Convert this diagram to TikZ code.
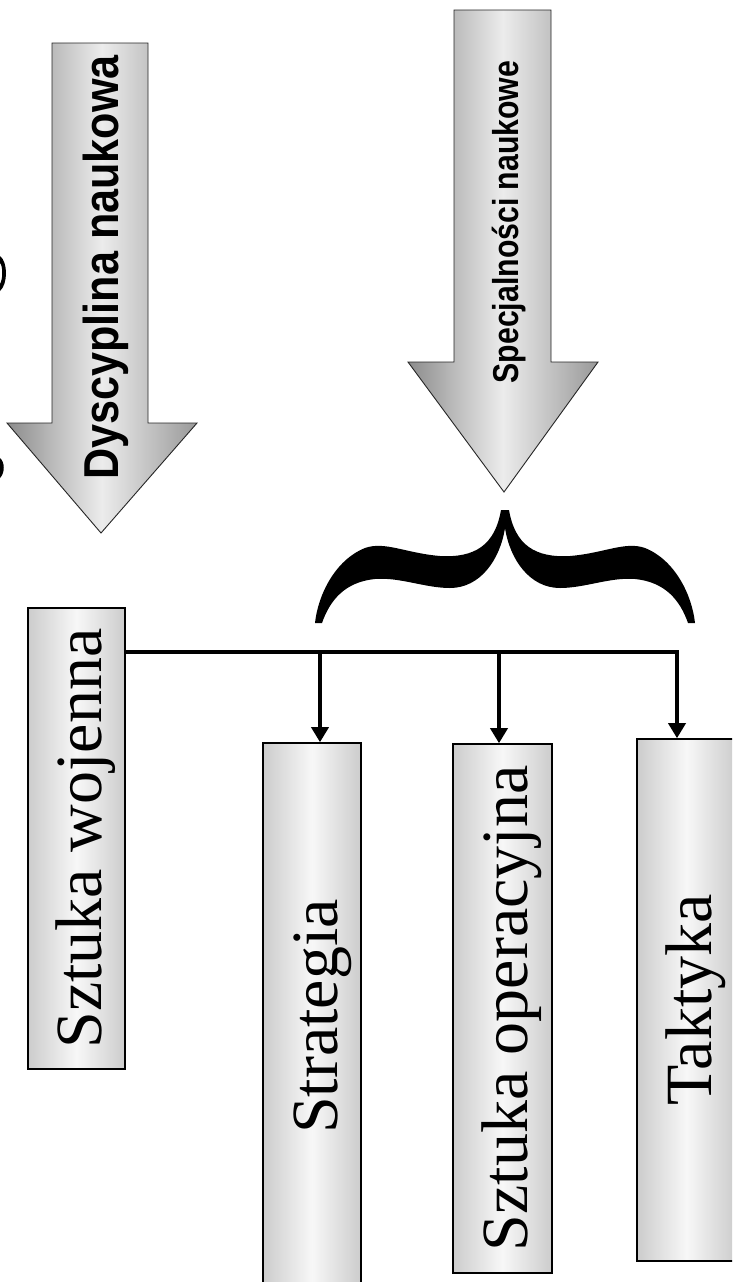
\documentclass[tikz,border=0pt]{standalone}
\usepackage{graphicx}
\usepackage{fontspec}
\setmainfont{Liberation Serif}
\setsansfont{Liberation Sans}
\usetikzlibrary{arrows.meta}
\begin{document}
\begin{tikzpicture}[x=1pt,y=-1pt,
  box/.style={draw=black, line width=1.6pt, inner sep=0pt,
    left color=gray!40, right color=gray!40, middle color=gray!6,
    font=\fontsize{66}{70}\selectfont},
  bigarrow/.style={draw=gray!30!black, line width=0.9pt,
    left color=gray!90, right color=gray!80, middle color=gray!15},
  arrowtext/.style={rotate=90, anchor=base, inner sep=0pt, font=\sffamily\bfseries},
  conn/.style={line width=3.5pt, line join=miter},
  tipped/.style={conn, -{Triangle[width=17pt,length=15pt]}}]
\useasboundingbox (0,0) rectangle (732,1282);
\clip (0,0) rectangle (732,1282);
\fill[white] (0,0) rectangle (732,1282);

% cut-off glyph fragments at the left edge
\fill (0,256) .. controls (8,262) and (8,284) .. (0,291) -- (0,284) .. controls (3,279) and (3,266) .. (0,263) -- cycle;
\fill (0,458) .. controls (5,462) and (5,473) .. (0,478) -- cycle;

% big arrows
\path[bigarrow] (52,43) -- (148,43) -- (148,423) -- (197,423) -- (101,533) -- (7,423) -- (52,423) -- cycle;
\node[arrowtext, font=\sffamily\bfseries\fontsize{49}{50}\selectfont] (dysc) at (118,267.5) {\scalebox{0.88}[1]{Dyscyplina naukowa}};

\path[bigarrow] (454,10) -- (551,10) -- (551,362) -- (598,362) -- (504,492) -- (408,362) -- (454,362) -- cycle;
\node[arrowtext, font=\sffamily\bfseries\fontsize{36}{38}\selectfont] (spec) at (518,222) {\scalebox{0.84}[1]{Specjalności naukowe}};

% curly brace
\fill[black] (501,510)
  .. controls (495,545) and (475,558) .. (440,556)
  .. controls (405,553) and (385,541) .. (365,548)
  .. controls (335,560) and (318,595) .. (315,623)
  -- (322,623)
  .. controls (330,600) and (345,582) .. (375,579)
  .. controls (400,577) and (425,588) .. (450,588)
  .. controls (480,588) and (500,560) .. (505,528)
  .. controls (510,560) and (530,588) .. (560,588)
  .. controls (585,588) and (610,577) .. (635,579)
  .. controls (665,582) and (680,600) .. (688,623)
  -- (695,623)
  .. controls (692,595) and (675,560) .. (645,548)
  .. controls (625,541) and (605,553) .. (570,556)
  .. controls (535,558) and (515,545) .. (509,510)
  -- cycle;

% boxes
\node[box, minimum width=97pt, minimum height=461pt] (sw) at (76.5,838.5)
  {\rotatebox{90}{\raisebox{-25pt}[0pt][0pt]{Sztuka wojenna}}};
\node[box, minimum width=98pt, minimum height=547pt] (str) at (312,1016.5)
  {\rotatebox{90}{\raisebox{-25pt}[0pt][0pt]{Strategia}}};
\node[box, minimum width=99pt, minimum height=529pt] (op) at (502.5,1008.5)
  {\rotatebox{90}{\raisebox{-25pt}[0pt][0pt]{Sztuka operacyjna}}};
\node[box, minimum width=99pt, minimum height=522pt] (tak) at (686.5,1000)
  {\rotatebox{90}{\raisebox{-25pt}[0pt][0pt]{Taktyka}}};

% connectors
\coordinate (hub) at (677,652);
\coordinate (b1) at (320,652);
\coordinate (b2) at (499,652);
\draw[tipped] (sw.east |- hub) -- (hub) -- (hub |- tak.north);
\draw[tipped] (b1) -- (b1 |- str.north);
\draw[tipped] (b2) -- (b2 |- op.north);
\end{tikzpicture}
\end{document}
